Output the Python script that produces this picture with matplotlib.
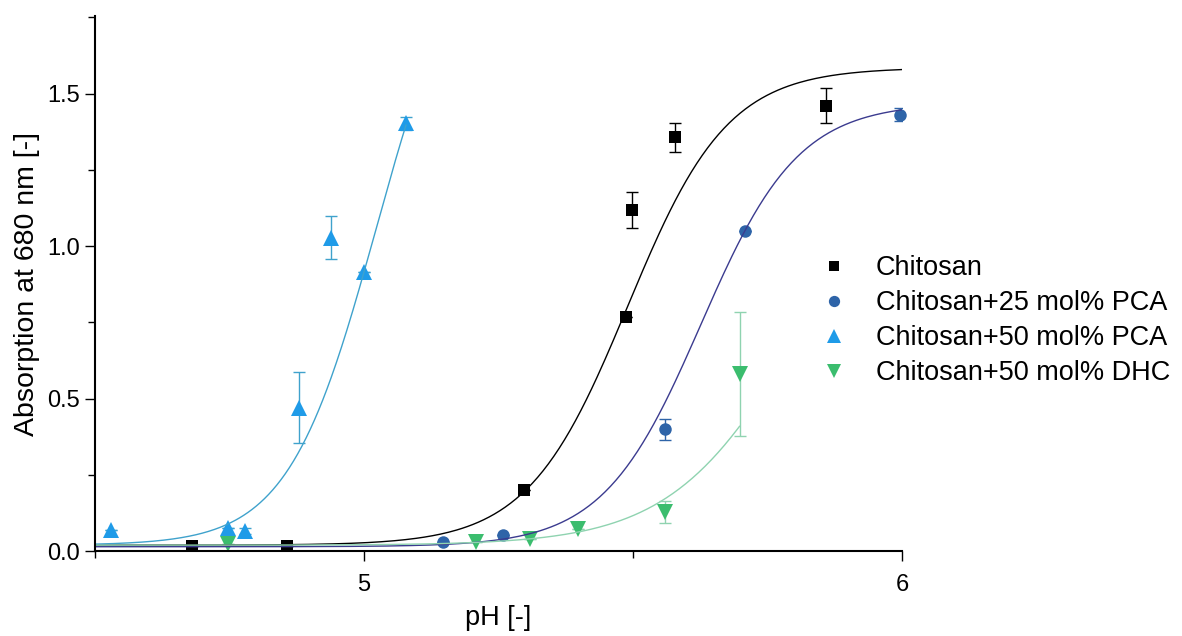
import numpy as np
import matplotlib.pyplot as plt
from matplotlib.ticker import MultipleLocator

plt.rcParams['font.family'] = ['Liberation Sans', 'DejaVu Sans']

# Turbidity measurements: pH, absorption at 680 nm, standard deviation
ph_chi = [4.68, 4.857, 5.298, 5.487, 5.498, 5.578, 5.858]
abs_chi = [0.019, 0.019, 0.202, 0.767, 1.118, 1.357, 1.460]
err_chi = [0.0, 0.0, 0.0, 0.0, 0.059, 0.048, 0.058]

ph_pca25 = [5.147, 5.259, 5.559, 5.708, 5.997]
abs_pca25 = [0.031, 0.053, 0.400, 1.049, 1.431]
err_pca25 = [0.0, 0.0, 0.035, 0.0, 0.02]

ph_pca50 = [4.530, 4.748, 4.779, 4.879, 4.938, 5.000, 5.078]
abs_pca50 = [0.070, 0.077, 0.067, 0.471, 1.028, 0.916, 1.402]
err_pca50 = [0.0, 0.0, 0.01, 0.116, 0.071, 0.0, 0.02]

ph_dhc = [4.748, 5.209, 5.308, 5.398, 5.559, 5.698]
abs_dhc = [0.024, 0.031, 0.039, 0.073, 0.128, 0.580]
err_dhc = [0.0, 0.0, 0.0, 0.0, 0.036, 0.203]

labels = ["Chitosan", "Chitosan+25 mol% PCA",
          "Chitosan+50 mol% PCA", "Chitosan+50 mol% DHC"]

# Boltzmann fit parameters (A1, A2, x0, dx) and fitted pH range
fit_chi = (0.02, 1.585, 5.49, 0.093)
fit_pca25 = (0.015, 1.47, 5.626, 0.0908)
fit_pca50 = (0.02, 2.1, 5.023, 0.082)
fit_dhc = (0.02, 1.4, 5.81, 0.12)
range_chi = (4.5, 6.0)
range_pca25 = (4.5, 6.0)
range_pca50 = (4.5, 5.078)
range_dhc = (4.5, 5.698)


def boltzmann(x, a1, a2, x0, dx):
    return a2 + (a1 - a2) / (1 + np.exp((x - x0) / dx))


series = [
    (ph_chi, abs_chi, err_chi, fit_chi, range_chi, 's', '#000000', '#000000', '#000000', 8.5),
    (ph_pca25, abs_pca25, err_pca25, fit_pca25, range_pca25, 'o', '#2e64a8', '#3b3b8f', '#2e64a8', 9),
    (ph_pca50, abs_pca50, err_pca50, fit_pca50, range_pca50, '^', '#1f9be8', '#3fa2cc', '#3fa2cc', 11.5),
    (ph_dhc, abs_dhc, err_dhc, fit_dhc, range_dhc, 'v', '#3bbd6e', '#8fd3b0', '#8fd3b0', 11.5),
]

fig = plt.figure(figsize=(11.82, 6.36), dpi=100)
ax = fig.add_axes([95 / 1182, 1 - 551.3 / 636, (902 - 95) / 1182, (551.3 - 15.7) / 636])

for (x, y, e, p, r, m, mc, lc, ec, ms), lab in zip(series, labels):
    ax.errorbar(x, y, yerr=e, fmt='none', ecolor=ec, elinewidth=1,
                capsize=4.5, capthick=1, zorder=2)
    ax.plot(x, y, linestyle='none', marker=m, ms=ms, color=mc,
            markeredgewidth=0, label=lab, zorder=3, clip_on=False)
    xf = np.linspace(r[0], r[1], 300)
    ax.plot(xf, boltzmann(xf, *p), color=lc, lw=1, zorder=4)

ax.set_xlim(4.5, 6.0)
ax.set_ylim(0, 1.755)
ax.xaxis.set_major_locator(MultipleLocator(1))
ax.xaxis.set_minor_locator(MultipleLocator(0.5))
ax.yaxis.set_major_locator(MultipleLocator(0.5))
ax.yaxis.set_minor_locator(MultipleLocator(0.25))
ax.spines['top'].set_visible(False)
ax.spines['right'].set_visible(False)
ax.spines['left'].set_linewidth(1.5)
ax.spines['bottom'].set_linewidth(1.5)
ax.spines['left'].set_zorder(5)
ax.spines['bottom'].set_zorder(5)
ax.tick_params(which='major', direction='out', length=7, width=1, labelsize=17)
ax.tick_params(which='minor', direction='out', length=5, width=1)
ax.tick_params(axis='x', pad=9)
ax.tick_params(axis='y', pad=4)
ax.yaxis.set_major_formatter(plt.FuncFormatter(lambda v, _: f"{v:.1f}"))

ax.set_xlabel("pH [-]", fontsize=19.5, labelpad=7)
ax.set_ylabel("Absorption at 680 nm [-]", fontsize=20.5, labelpad=5)

ax.legend(loc='upper left', bbox_to_anchor=(0.885, 0.573), frameon=False,
          fontsize=19.5, handlelength=1.0, handletextpad=1.05,
          labelspacing=0.33, borderaxespad=0, markerscale=0.9)

fig.savefig("out.png", dpi=100)
